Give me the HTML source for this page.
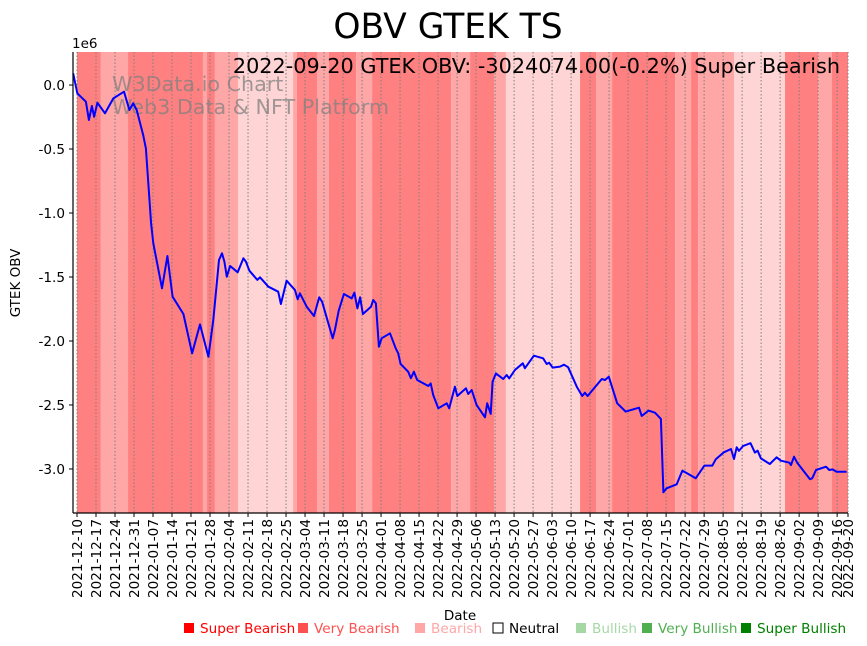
<!DOCTYPE html>
<html><head><meta charset="utf-8">
<style>
body{margin:0;background:#fff;}
svg{display:block;font-family:"DejaVu Sans","Liberation Sans",sans-serif;}
</style></head>
<body>
<svg id="chart" width="867" height="646" viewBox="0 0 867 646" xmlns="http://www.w3.org/2000/svg">
<text x="448" y="38" font-size="34.5" text-anchor="middle">OBV GTEK TS</text>
<g id="bands"></g>
<g id="grid"></g>
<text x="112" y="91" font-size="20.7" fill="#808080" fill-opacity="0.75">W3Data.io Chart</text>
<text x="112" y="114" font-size="20.7" fill="#808080" fill-opacity="0.75">Web3 Data &amp; NFT Platform</text>
<path id="line" fill="none" stroke="#0000ff" stroke-width="2" stroke-linejoin="round"/>
<text x="840" y="73" font-size="20.8" text-anchor="end">2022-09-20 GTEK OBV: -3024074.00(-0.2%) Super Bearish</text>
<g id="axes"></g>
<text x="72" y="48" font-size="13.5">1e6</text>
<text x="20" y="283" font-size="13.5" text-anchor="middle" transform="rotate(-90 20 283)">GTEK OBV</text>
<text x="460" y="620" font-size="13.5" text-anchor="middle">Date</text>
<g id="legend"></g>
</svg>
<script>
const days=[-1.4,0.1,3.3,4.4,5.5,6.3,7.5,10.3,13.4,17.3,19.3,20.7,22.0,24.4,25.4,27.3,28.1,31.3,33.3,35.2,39.2,42.4,45.3,48.4,50.2,52.3,53.4,54.3,55.2,56.4,59.2,61.3,62.2,63.5,66.4,67.4,70.5,74.1,75.1,77.2,80.3,81.3,82.1,84.6,87.3,89.2,90.3,94.2,95.0,96.4,98.3,101.2,102.2,103.3,104.3,105.3,108.3,109.1,110.1,111.2,112.2,115.3,117.4,118.3,119.2,122.0,123.0,124.1,125.3,129.4,130.3,131.2,133.1,136.2,137.1,139.2,140.1,143.3,144.1,145.4,147.2,150.3,151.1,152.4,153.1,154.3,157.0,158.3,159.2,161.3,164.2,165.0,168.3,171.7,173.0,173.9,175.2,177.9,179.4,180.9,184.1,186.1,187.1,188.1,193.3,194.5,195.9,199.0,202.1,207.0,208.0,210.5,212.9,215.1,216.0,217.2,220.9,223.0,227.9,231.1,234.0,235.3,238.3,240.9,242.0,243.0,243.8,245.4,248.1,249.7,250.7,251.9,255.2,257.7,259.3,262.4,263.0,264.1,265.3,270.0,270.8,272.2,275.9,277.1,278.3,279.8,283.5];
const obv=[0.091,-0.065,-0.130,-0.273,-0.164,-0.248,-0.138,-0.221,-0.104,-0.052,-0.195,-0.143,-0.195,-0.391,-0.495,-1.081,-1.237,-1.588,-1.336,-1.654,-1.789,-2.096,-1.870,-2.123,-1.836,-1.367,-1.315,-1.380,-1.498,-1.414,-1.463,-1.354,-1.380,-1.451,-1.523,-1.502,-1.576,-1.615,-1.711,-1.529,-1.602,-1.674,-1.627,-1.732,-1.805,-1.659,-1.693,-1.979,-1.914,-1.763,-1.633,-1.667,-1.623,-1.745,-1.659,-1.789,-1.732,-1.680,-1.706,-2.045,-1.979,-1.940,-2.057,-2.096,-2.180,-2.240,-2.291,-2.240,-2.305,-2.352,-2.331,-2.422,-2.526,-2.487,-2.526,-2.357,-2.430,-2.370,-2.414,-2.383,-2.500,-2.596,-2.487,-2.570,-2.318,-2.253,-2.297,-2.266,-2.292,-2.227,-2.174,-2.213,-2.115,-2.135,-2.180,-2.170,-2.208,-2.200,-2.185,-2.205,-2.357,-2.430,-2.404,-2.430,-2.297,-2.305,-2.279,-2.487,-2.552,-2.521,-2.586,-2.544,-2.560,-2.609,-3.182,-3.151,-3.120,-3.013,-3.073,-2.974,-2.974,-2.924,-2.870,-2.844,-2.922,-2.831,-2.859,-2.820,-2.799,-2.872,-2.857,-2.917,-2.961,-2.909,-2.935,-2.951,-2.969,-2.904,-2.951,-3.080,-3.073,-3.008,-2.982,-3.008,-3.003,-3.021,-3.021];
const bandStarts=[0,8.8,18.8,46.4,47.9,50.8,59.3,79.6,81.0,88.4,92.8,102.8,108.7,137.8,144.8,153.6,158.0,185.3,191.2,197.1,220.3,226.2,228.8,242.0,260.8,273.0,278.1];
const bandEnds=[8.8,18.8,46.4,47.9,50.8,59.3,79.6,81.0,88.4,92.8,102.8,108.7,137.8,144.8,153.6,158.0,185.3,191.2,197.1,220.3,226.2,228.8,242.0,260.8,273.0,278.1,284];
const bandLevel=[0,1,0,1,0,1,2,1,0,1,0,1,0,1,0,1,2,0,1,0,1,0,1,2,0,1,0];
const yTicks=[0,-0.5,-1.0,-1.5,-2.0,-2.5,-3.0];
const xTickLabels=[];
(function(){const s=Date.UTC(2021,11,10);for(let d=0;d<=280;d+=7){xTickLabels.push([d,new Date(s+d*864e5).toISOString().slice(0,10)]);}xTickLabels.push([284,'2022-09-20']);})();
const legendNames=['Super Bearish','Very Bearish','Bearish','Neutral','Bullish','Very Bullish','Super Bullish'];
const legendColors=['#ff0000','#ff5050','#ffa6a6','#ffffff','#a6d8a6','#50b050','#008000'];

const NS='http://www.w3.org/2000/svg';
const L=73,R=848,T=52,B=513;
const d0=-1.47,d1=284,v0=-3.344,v1=0.258;
const X=d=>L+(d-d0)/(d1-d0)*(R-L);
const Y=v=>B-(v-v0)/(v1-v0)*(B-T);
function mk(tag,attrs,parent){const e=document.createElementNS(NS,tag);for(const k in attrs)e.setAttribute(k,attrs[k]);parent.appendChild(e);return e;}
const bandFill=['#ff8080','#ffa6a6','#ffd4d4'];
const bg=document.getElementById('bands');
for(let i=0;i<bandStarts.length;i++){
  const r=mk('rect',{x:X(bandStarts[i]),y:T,width:X(bandEnds[i])-X(bandStarts[i]),height:B-T,fill:bandFill[bandLevel[i]]},bg);
  
  
}
const gg=document.getElementById('grid');
const ax=document.getElementById('axes');
xTickLabels.forEach(([d,lab])=>{
  const x=X(d);
  const g=mk('line',{x1:x,x2:x,y1:T,y2:B,stroke:'#808080','stroke-width':1,'stroke-dasharray':'1.5,2'},gg);
  
  
  mk('line',{x1:x,x2:x,y1:B,y2:B+4,stroke:'#000'},ax);
  const t=mk('text',{x:0,y:0,'font-size':13.6,'text-anchor':'end',transform:`translate(${x+4.8},${B+6}) rotate(-90)`},ax);
  t.textContent=lab;
  
  
});
yTicks.forEach(v=>{
  const y=Y(v);
  mk('line',{x1:L-4,x2:L,y1:y,y2:y,stroke:'#000'},ax);
  const t=mk('text',{x:L-8,y:y+4.8,'font-size':13.6,'text-anchor':'end'},ax);
  t.textContent=v.toFixed(1);
  
  
});
mk('line',{x1:L,x2:L,y1:T,y2:B,stroke:'#000','stroke-width':1.2},ax);
mk('line',{x1:L,x2:R,y1:B,y2:B,stroke:'#000','stroke-width':1.2},ax);
document.getElementById('line').setAttribute('d',days.map((d,i)=>(i?'L':'M')+X(d).toFixed(1)+','+Y(obv[i]).toFixed(1)).join(''));
const lg=document.getElementById('legend');
const lx=[184,298,415,493,576,642,741];
legendNames.forEach((n,i)=>{
  const r=mk('rect',{x:lx[i],y:623,width:10,height:10,fill:legendColors[i],stroke:i==3?'#000':'none'},lg);
  
  
  const t=mk('text',{x:lx[i]+16,y:633,'font-size':13.6,fill:i==3?'#000':legendColors[i]},lg);
  t.textContent=n;
  
  
});
</script>
</body></html>
